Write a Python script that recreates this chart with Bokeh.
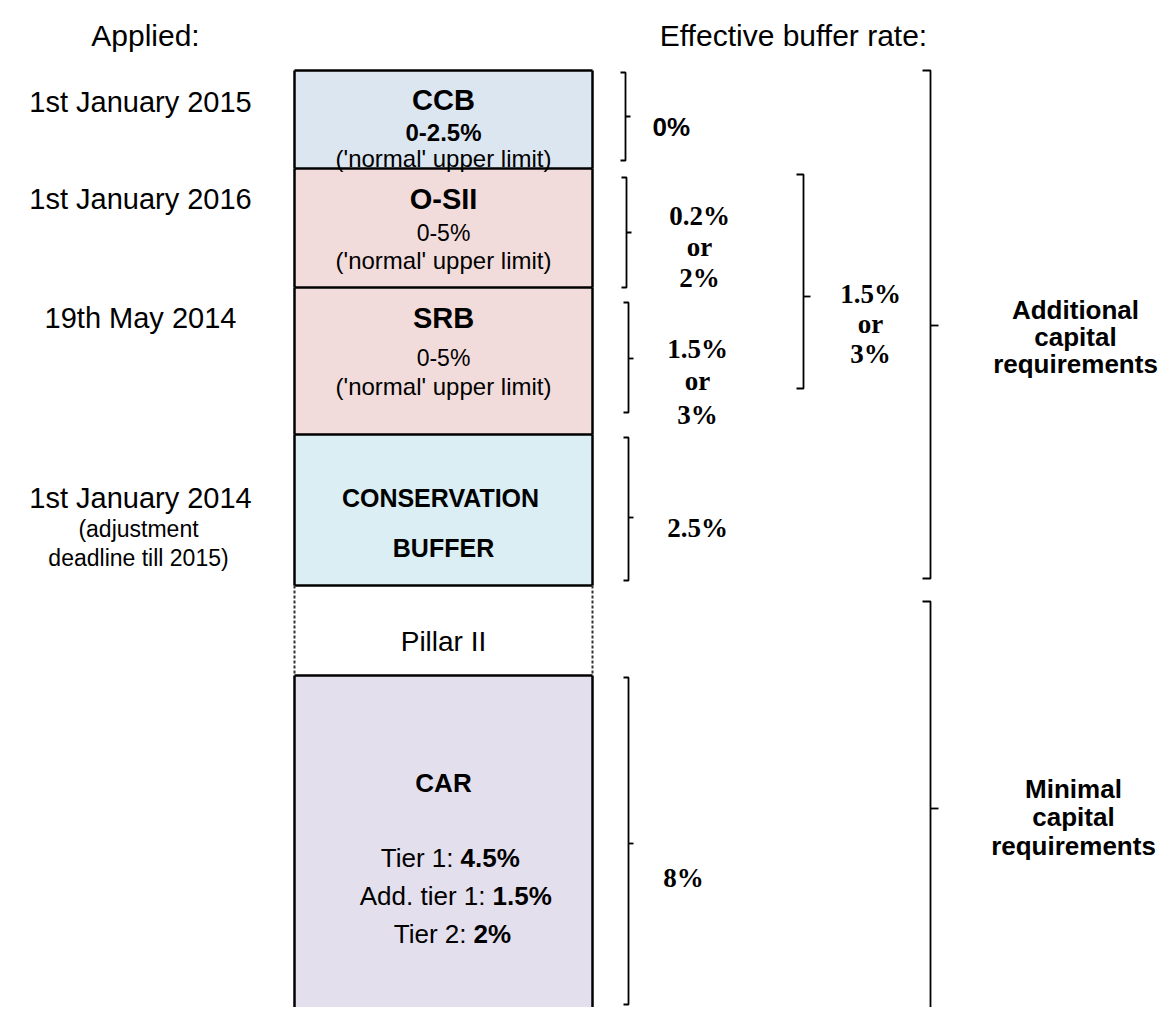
from bokeh.plotting import figure
from bokeh.models import Range1d, ColumnDataSource
from bokeh.core.properties import value
from bokeh.embed import file_html
from bokeh.resources import INLINE

# ---------------- data ----------------
layer_names = ["CCB", "O-SII", "SRB", "CONSERVATION BUFFER", "Pillar II", "CAR"]
layer_top = [70, 168, 287, 434, 585, 675]
layer_bottom = [168, 287, 434, 585, 675, 1060]
layer_colors = ["#dce6f1", "#f2dcdb", "#f2dcdb", "#daeef3", "#ffffff", "#e4dfec"]

applied_dates = ["1st January 2015", "1st January 2016", "19th May 2014", "1st January 2014"]
applied_note = ["(adjustment", "deadline till 2015)"]
buffer_ranges = ["0-2.5%", "0-5%", "0-5%"]
limit_note = "('normal' upper limit)"
car_parts = ["Tier 1:", "Add. tier 1:", "Tier 2:"]
car_values = ["4.5%", "1.5%", "2%"]

rate_ccb = "0%"
rate_osii = ["0.2%", "or", "2%"]
rate_srb = ["1.5%", "or", "3%"]
rate_combined = ["1.5%", "or", "3%"]
rate_conservation = "2.5%"
rate_car = "8%"
group_labels_add = ["Additional", "capital", "requirements"]
group_labels_min = ["Minimal", "capital", "requirements"]

# braces: x, top, bottom, tick position, stub size
brace_x = [625, 626, 628, 803, 628, 930, 628, 930]
brace_top = [72, 177, 302, 174, 437, 70, 677, 601]
brace_bottom = [160, 287, 412, 388, 580, 578, 1004, 1040]
brace_tick = [116, 232, 358, 296, 517, 325, 843, 808]
brace_size = [5, 5, 5, 7, 5, 8, 5, 8]

# ---------------- figure ----------------
W, H = 1167, 1007
p = figure(width=W, height=H, x_range=Range1d(0, W), y_range=Range1d(H, 0),
           output_backend="svg", toolbar_location=None, min_border=0,
           x_axis_location=None, y_axis_location=None)
p.grid.visible = False
p.outline_line_color = None
p.background_fill_color = "white"
p.border_fill_color = "white"

BX0, BX1 = 294, 592
CX = (BX0 + BX1) / 2

# boxes fills
p.quad(left=[BX0] * len(layer_names), right=[BX1] * len(layer_names),
       top=layer_top, bottom=layer_bottom, fill_color=layer_colors, line_color=None)

# horizontal borders
hx, hy = [], []
for t in layer_top:
    hx.append([BX0, BX1]); hy.append([t, t])
p.multi_line(hx, hy, line_color="black", line_width=2.5)
# vertical solid borders (all but Pillar II)
vx, vy = [], []
for name, t, b in zip(layer_names, layer_top, layer_bottom):
    if name == "Pillar II":
        continue
    vx += [[BX0, BX0], [BX1, BX1]]
    vy += [[t, b], [t, b]]
p.multi_line(vx, vy, line_color="black", line_width=2.5)
pi = layer_names.index("Pillar II")
p.multi_line([[BX0, BX0], [BX1, BX1]],
             [[layer_top[pi], layer_bottom[pi]]] * 2,
             line_color="#333333", line_width=2, line_dash="3 2")

# braces
bx, by = [], []
for x, t, b, m, s in zip(brace_x, brace_top, brace_bottom, brace_tick, brace_size):
    bx.append([x - s, x, x, x - s]); by.append([t, t, b, b])
    bx.append([x, x + s]); by.append([m, m])
p.multi_line(bx, by, line_color="black", line_width=1.8)

# ---------------- texts ----------------
SANS = "Liberation Sans"
SERIF = "Liberation Serif"
rows = []  # x, y, text, size, style, font, align


def add(x, y, t, size, style="normal", font=SANS, align="center"):
    rows.append((x, y, t, size, style, font, align))


add(145, 35, "Applied:", "30px")
add(793, 35, "Effective buffer rate:", "30px")

for t, y in zip(applied_dates, [101, 198, 317, 497]):
    add(140, y, t, "29px")
for t, y in zip(applied_note, [528, 557]):
    add(138, y, t, "23px")

# box titles
add(CX, 99, layer_names[0], "29px", "bold")
add(CX, 198, layer_names[1], "29px", "bold")
add(CX, 317, layer_names[2], "29px", "bold")
cons = layer_names[3].split(" ")
add(440, 497, cons[0], "25px", "bold")
add(CX, 547, cons[1], "25px", "bold")
add(CX, 641, layer_names[4], "28px")
add(CX, 782, layer_names[5], "26px", "bold")

add(CX, 132, buffer_ranges[0], "24px", "bold")
add(CX, 232, buffer_ranges[1], "23px")
add(CX, 357, buffer_ranges[2], "23px")
for y in [158, 260, 386]:
    add(CX, y, limit_note, "24px")

for part, val, y, split in zip(car_parts, car_values, [857, 895, 933], [460, 492, 473]):
    add(split - 7, y, part, "26px", align="right")
    add(split, y, val, "26px", "bold", align="left")

# effective rates
add(652, 126, rate_ccb, "26px", "bold", align="left")
for t, y in zip(rate_osii, [215, 246, 277]):
    add(699, y, t, "27px", "bold", SERIF)
for t, y in zip(rate_srb, [348, 380, 414]):
    add(697, y, t, "27px", "bold", SERIF)
for t, y in zip(rate_combined, [293, 323, 353]):
    add(870, y, t, "27px", "bold", SERIF)
add(697, 527, rate_conservation, "27px", "bold", SERIF)
add(683, 877, rate_car, "27px", "bold", SERIF)

for t, y in zip(group_labels_add, [309, 336, 363]):
    add(1075, y, t, "26px", "bold")
for t, y in zip(group_labels_min, [788, 816, 845]):
    add(1073, y, t, "26px", "bold")

src = ColumnDataSource(dict(
    x=[r[0] for r in rows], y=[r[1] for r in rows], text=[r[2] for r in rows],
    size=[r[3] for r in rows], style=[r[4] for r in rows], font=[r[5] for r in rows],
    align=[r[6] for r in rows]))
p.text(x="x", y="y", text="text", source=src, text_font_size="size",
       text_font_style="style", text_font="font", text_align="align",
       text_baseline=value("alphabetic"), text_color="black")

open("out.html", "w").write(file_html(p, INLINE))
